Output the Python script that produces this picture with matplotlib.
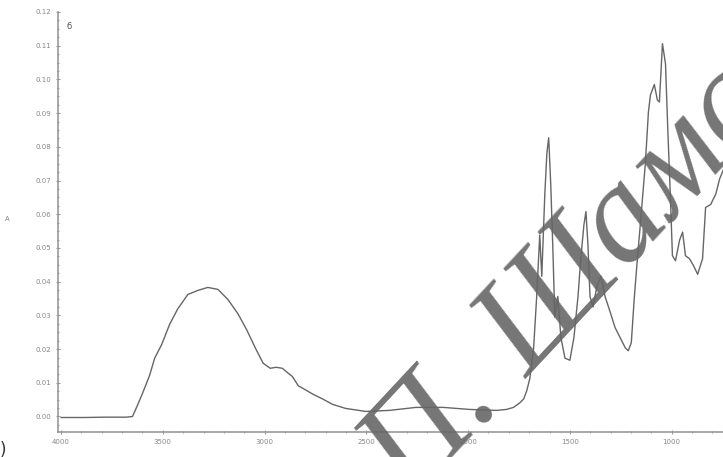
import numpy as np
import matplotlib.pyplot as plt
from matplotlib.ticker import MultipleLocator, FormatStrFormatter

# IR spectrum: wavenumber (cm-1) and absorbance
wavenumber = [4000, 3886, 3788, 3738, 3679, 3649, 3629, 3605, 3585, 3565,
              3540, 3506, 3466, 3427, 3377, 3328, 3279, 3229, 3180, 3130,
              3086, 3046, 3007, 2972, 2943, 2913, 2883, 2864, 2834, 2799,
              2765, 2715, 2666, 2602, 2503, 2389, 2256, 2122, 1994, 1860,
              1811, 1777, 1747, 1727, 1712, 1697, 1678, 1663, 1648, 1638,
              1623, 1613, 1604, 1594, 1584, 1574, 1559, 1544, 1524, 1500,
              1480, 1460, 1445, 1431, 1421, 1411, 1401, 1386, 1367, 1347,
              1327, 1302, 1278, 1253, 1228, 1213, 1198, 1184, 1169, 1154,
              1129, 1114, 1104, 1085, 1070, 1060, 1045, 1030, 1020, 1006,
              996, 981, 961, 946, 932, 912, 892, 872, 848, 833,
              808, 783, 764, 739, 714]
absorbance = [-0.0003, -0.0003, -0.0002, -0.0002, -0.0002, 0.0000, 0.0027, 0.0061, 0.0091, 0.0122,
              0.0173, 0.0213, 0.0274, 0.0319, 0.0362, 0.0374, 0.0383, 0.0377, 0.0347, 0.0304,
              0.0255, 0.0204, 0.0158, 0.0143, 0.0146, 0.0143, 0.0128, 0.0119, 0.0091, 0.0079,
              0.0067, 0.0052, 0.0036, 0.0024, 0.0015, 0.0018, 0.0027, 0.0027, 0.0021, 0.0018,
              0.0021, 0.0027, 0.0040, 0.0052, 0.0076, 0.0112, 0.0204, 0.0356, 0.0538, 0.0416,
              0.0660, 0.0781, 0.0827, 0.0690, 0.0508, 0.0295, 0.0356, 0.0234, 0.0173, 0.0167,
              0.0234, 0.0356, 0.0477, 0.0568, 0.0608, 0.0508, 0.0356, 0.0325, 0.0386, 0.0416,
              0.0356, 0.0310, 0.0264, 0.0234, 0.0204, 0.0195, 0.0219, 0.0347, 0.0462, 0.0568,
              0.0751, 0.0903, 0.0954, 0.0985, 0.0939, 0.0933, 0.1106, 0.1046, 0.0872, 0.0650,
              0.0477, 0.0462, 0.0523, 0.0547, 0.0477, 0.0468, 0.0447, 0.0422, 0.0468, 0.0620,
              0.0629, 0.0660, 0.0705, 0.0742, 0.0772]

x_ticks = [4000, 3500, 3000, 2500, 2000, 1500, 1000]
y_ticks = [round(0.01 * i, 2) for i in range(13)]

fig = plt.figure(figsize=(7.23, 4.57), dpi=100)
ax = fig.add_axes([58 / 723, 25 / 457, 1 - 58 / 723 + 0.01, 420 / 457])

ax.plot(wavenumber, absorbance, color='#666666', lw=1.0)

ax.set_xlim(4015, 712)
ax.set_ylim(-0.0046, 0.0123)
ax.set_xticks(x_ticks)
ax.set_yticks(y_ticks)
ax.yaxis.set_major_formatter(FormatStrFormatter('%.2f'))
ax.xaxis.set_minor_locator(MultipleLocator(100))
ax.yaxis.set_minor_locator(MultipleLocator(0.0025))

for side in ['top', 'right']:
    ax.spines[side].set_visible(False)
for side in ['left', 'bottom']:
    ax.spines[side].set_color('#999999')
    ax.spines[side].set_linewidth(1.2)
ax.tick_params(which='both', colors='#999999', labelcolor='#888888',
               labelsize=5, direction='inout', length=3, width=0.8)
ax.tick_params(which='minor', length=2)

ax.set_ylabel('A', fontsize=5, color='#888888', rotation=0, labelpad=20)
ax.text(0.013, 0.96, 'б', transform=ax.transAxes, fontsize=6, color='#555555')

fig.text(0.0, 0.005, ')', fontsize=12, color='#333333')

# watermark
fig.text(0.787, 0.377, 'П. Шамс', fontsize=100, family='Liberation Serif', style='italic',
         rotation=47, color='#666666', alpha=0.9, ha='center', va='center')

fig.savefig('out.png', dpi=100)
